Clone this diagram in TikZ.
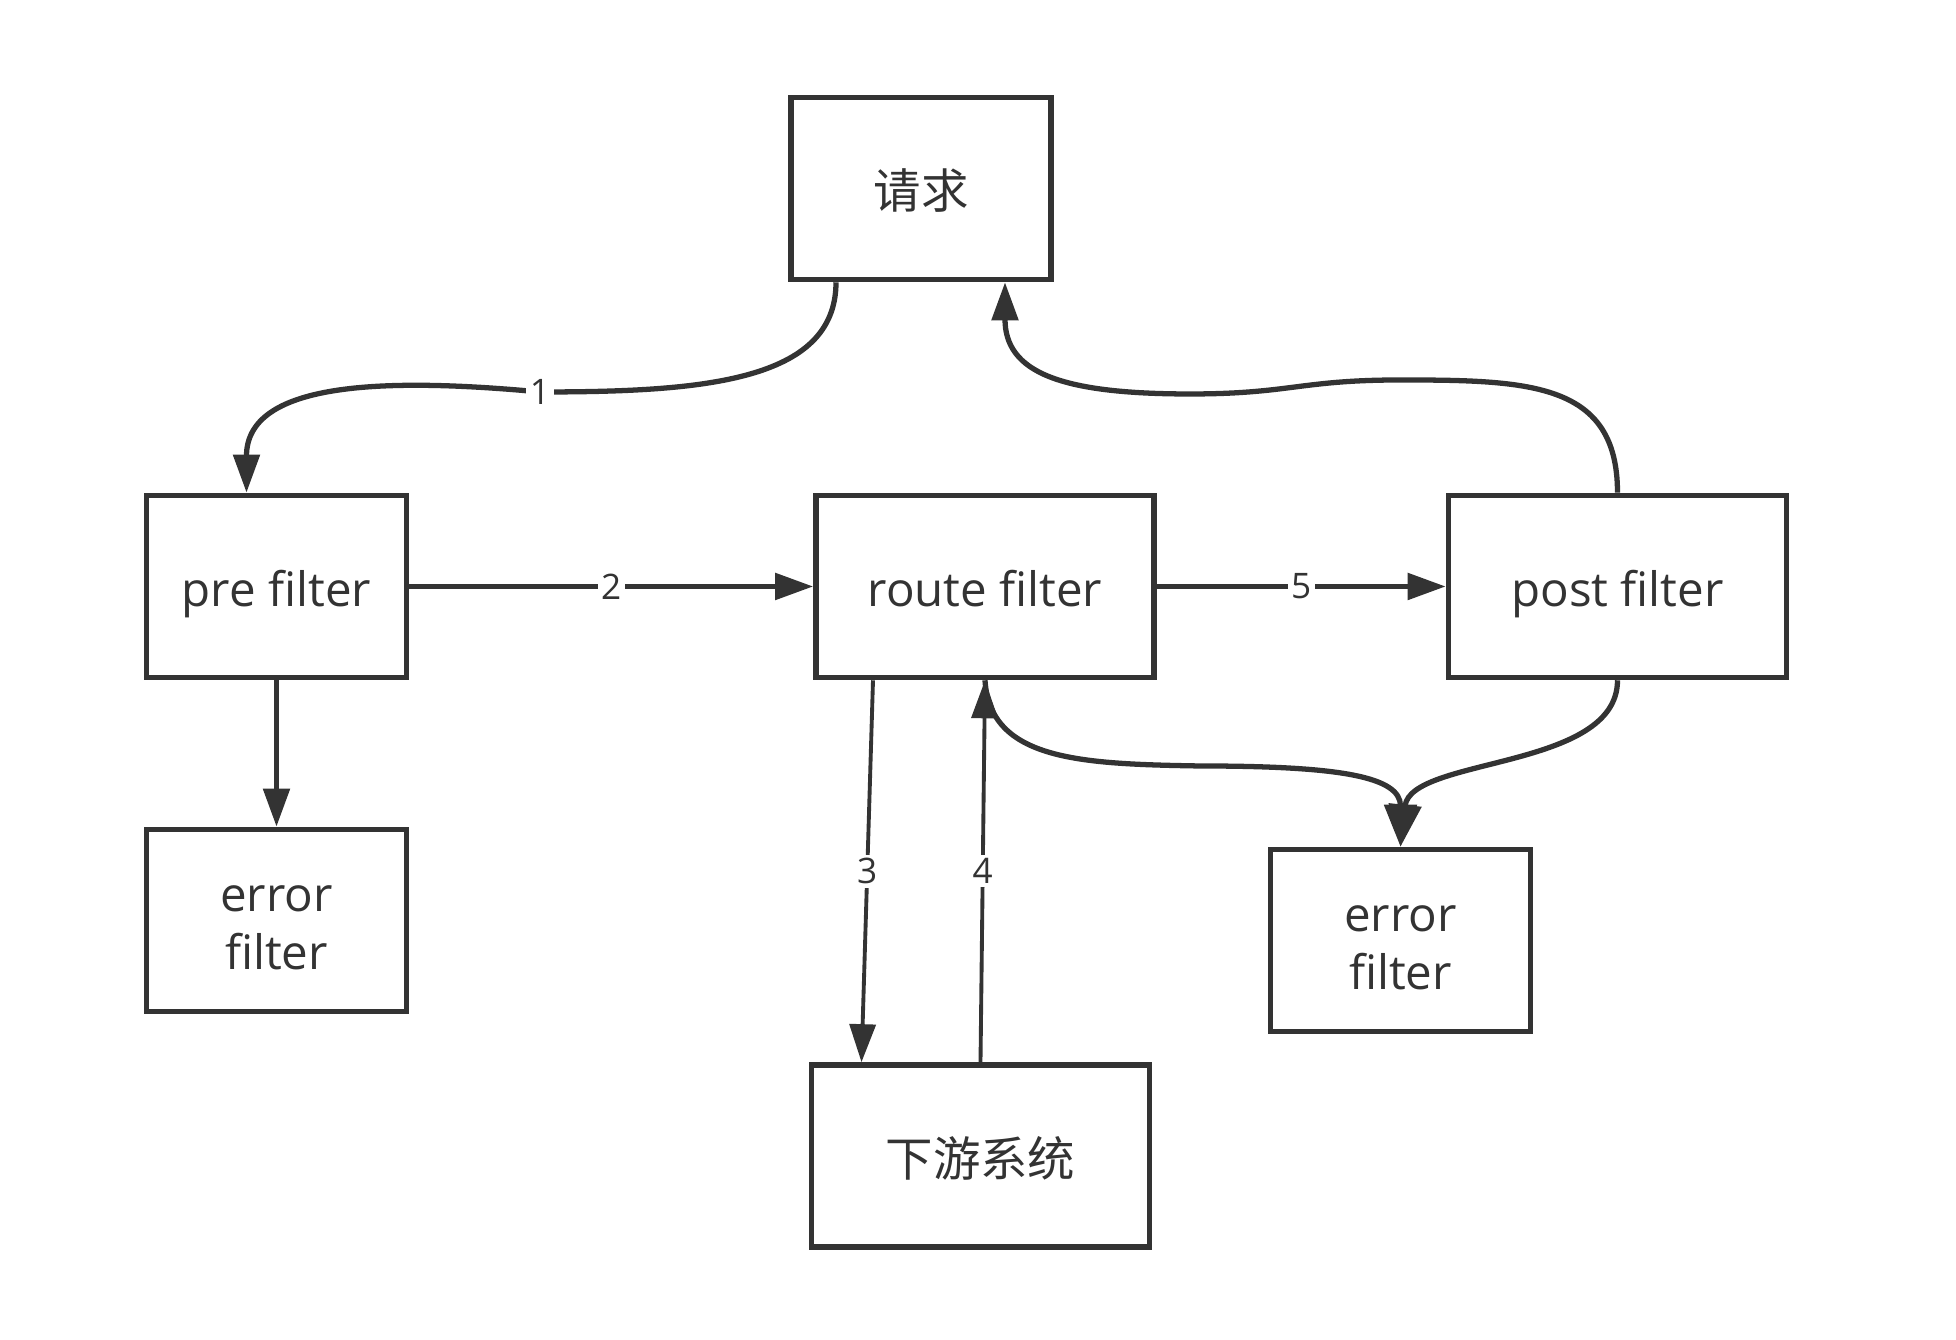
\documentclass[tikz,border=0pt]{standalone}
\usepackage{fontspec}
\setmainfont{Open Sans}
\newfontfamily\cjk{Noto Sans CJK SC}
\usetikzlibrary{arrows.meta}
\definecolor{ink}{HTML}{333333}
\begin{document}
\begin{tikzpicture}[color=ink,
    box/.style = {draw, line width=1.6pt,
        minimum width=2.6cm, minimum height=1.82cm,
        inner sep=0pt, align=center,
        font=\fontsize{13.5}{16.5}\selectfont},
    wide/.style = {box, minimum width=3.38cm},
    oneline/.style = {text height=12.8pt, text depth=1.4pt},
    arr/.style = {-{Triangle[length=3.8mm,width=2.6mm]}, line width=1.5pt},
    num/.style = {fill=white, inner sep=1pt,
        font=\fontsize{10}{12}\selectfont}]

\useasboundingbox (0,0) rectangle (19.56,13.40);

% Request
\node[box,oneline] (req) at (9.21,11.515) {\cjk 请求};

% Filters
\node[box,oneline] (pre) at (2.765,7.535) {pre filter};
\node[wide,oneline] (route) at (9.85,7.535) {route filter};
\node[wide,oneline] (post) at (16.175,7.535) {post filter};

% Error filters
\node[box] (errA) at (2.765,4.195) {\strut error\\filter};
\node[box] (errB) at (14.005,3.995) {\strut error\\filter};

% Downstream
\node[wide,oneline] (down) at (9.805,1.84) {\cjk 下游系统};

% Arrows
\draw[arr] ([xshift=-0.85cm]req.south) .. controls +(0,-1.0) and +(1.6,0) .. (5.4,9.48)
    node[num] {1} .. controls +(-1.6,0.15) and +(0,1.1) .. ([xshift=-0.3cm]pre.north);
\draw[arr] (pre) -- node[num] {2} (route);
\draw[arr] (route) -- node[num] {5} (post);
\draw[arr] (pre) -- (errA);
\draw[arr, line width=1.1pt] ([xshift=-1.12cm]route.south) -- node[num] {3} ([xshift=-1.19cm]down.north);
\draw[arr, line width=1.1pt] (down.north) -- node[num] {4} (route.south);
\draw[arr, -{Triangle[length=4.2mm,width=3.2mm]}] (route.south) .. controls +(0.05,-0.8) and +(-1.2,0.02) .. (12.0,5.74)
    .. controls +(1.4,0) and +(0,0.7) .. (errB.north);
\draw[arr, -{Triangle[length=4.2mm,width=3.2mm]}] (post.south) .. controls +(0,-0.9) and +(0.1,0.9) .. (errB.north);
\draw[arr] (post.north) .. controls +(0,1.1) and +(1.3,0) .. (14.0,9.6)
    .. controls +(-1.0,0) and +(1.0,0) .. (11.9,9.46)
    .. controls +(-1.3,0) and +(0,-0.9) .. ([xshift=0.84cm]req.south);

\end{tikzpicture}
\end{document}
